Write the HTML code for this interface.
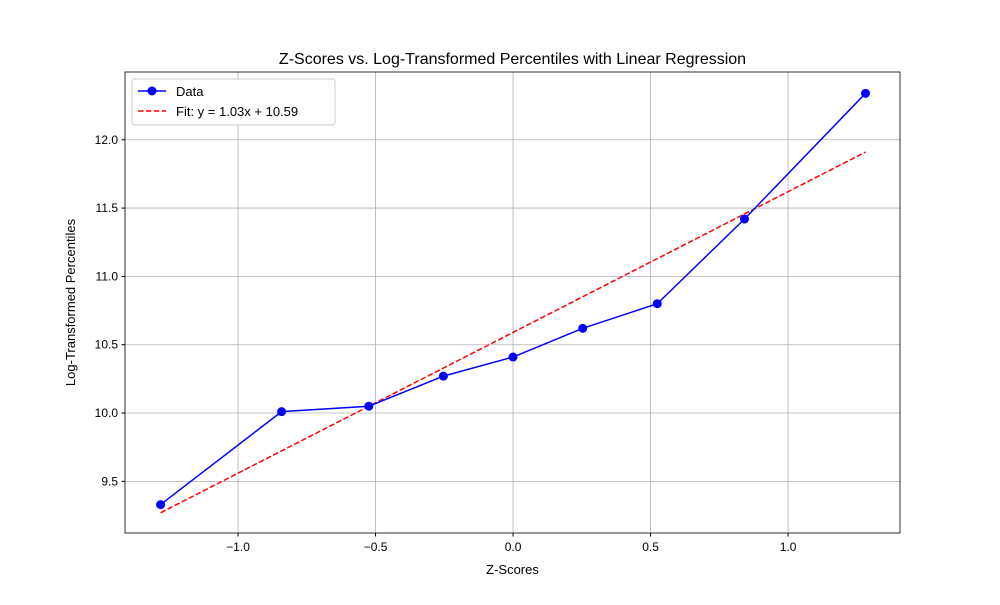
<!DOCTYPE html>
<html><head><meta charset="utf-8"><style>body{margin:0;background:#fff}svg{font-family:"Liberation Sans","DejaVu Sans",sans-serif}</style></head>
<body>
<svg id="chart" width="1000" height="600"></svg>
<script>
const zScores=[-1.2816,-0.8416,-0.5244,-0.2533,0,0.2533,0.5244,0.8416,1.2816];
const logPercentiles=[9.33,10.01,10.05,10.27,10.41,10.62,10.80,11.42,12.34];
const fitSlope=1.03, fitIntercept=10.59;
const xTicks=[-1.0,-0.5,0.0,0.5,1.0];
const yTicks=[9.5,10.0,10.5,11.0,11.5,12.0];
const L=125,R=900,T=72,B=533;
const xMin=-1.411,xMax=1.407,yMin=9.122,yMax=12.496;
const sx=v=>L+(v-xMin)/(xMax-xMin)*(R-L);
const sy=v=>B-(v-yMin)/(yMax-yMin)*(B-T);
const svg=document.getElementById('chart');
const NS='http://www.w3.org/2000/svg';
function mk(t,a,p){const e=document.createElementNS(NS,t);for(const k in a)e.setAttribute(k,a[k]);(p||svg).appendChild(e);return e;}
const fmt=v=>v.toFixed(1).replace('-','\u2212');
xTicks.forEach(v=>{const x=sx(v);
 const g=mk('line',{x1:x,x2:x,y1:T,y2:B,stroke:'#b0b0b0','stroke-width':0.8});
 
 mk('line',{x1:x,x2:x,y1:B,y2:B+3.5,stroke:'#000'});
 const t=mk('text',{x:x,y:B+18,'text-anchor':'middle','font-size':12});t.textContent=fmt(v);
 });
yTicks.forEach(v=>{const y=sy(v);
 const g=mk('line',{x1:L,x2:R,y1:y,y2:y,stroke:'#b0b0b0','stroke-width':0.8});
 
 mk('line',{x1:L-3.5,x2:L,y1:y,y2:y,stroke:'#000'});
 const t=mk('text',{x:L-7,y:y+4,'text-anchor':'end','font-size':12});t.textContent=fmt(v);
 });
// fit line
const x0=Math.min(...zScores),x1=Math.max(...zScores);
const fit=mk('line',{x1:sx(x0),y1:sy(fitSlope*x0+fitIntercept),x2:sx(x1),y2:sy(fitSlope*x1+fitIntercept),stroke:'red','stroke-width':1.5,'stroke-dasharray':'5.5,2.4'});

const pl=mk('polyline',{points:zScores.map((z,i)=>sx(z)+','+sy(logPercentiles[i])).join(' '),fill:'none',stroke:'blue','stroke-width':1.5});

zScores.forEach((z,i)=>{const c=mk('circle',{cx:sx(z),cy:sy(logPercentiles[i]),r:4.5,fill:'blue'});
 });
const fr=mk('rect',{x:L,y:T,width:R-L,height:B-T,fill:'none',stroke:'#000','stroke-width':0.8});

let t=mk('text',{x:(L+R)/2,y:64,'text-anchor':'middle','font-size':16});t.textContent='Z-Scores vs. Log-Transformed Percentiles with Linear Regression';

t=mk('text',{x:(L+R)/2,y:574,'text-anchor':'middle','font-size':13});t.textContent='Z-Scores';

t=mk('text',{x:75,y:(T+B)/2,'text-anchor':'middle','font-size':13,transform:'rotate(-90 75 '+(T+B)/2+')'});t.textContent='Log-Transformed Percentiles';

// legend
const lg=mk('g',{});
mk('rect',{x:132,y:79,width:203,height:46,rx:3,fill:'#fff',stroke:'#ccc'},lg);
mk('line',{x1:138,x2:166,y1:91,y2:91,stroke:'blue','stroke-width':1.5},lg);
mk('circle',{cx:152,cy:91,r:4.5,fill:'blue'},lg);
t=mk('text',{x:176,y:96,'font-size':13},lg);t.textContent='Data';

mk('line',{x1:138,x2:166,y1:111,y2:111,stroke:'red','stroke-width':1.5,'stroke-dasharray':'5.5,2.4'},lg);
t=mk('text',{x:176,y:116,'font-size':13},lg);t.textContent='Fit: y = 1.03x + 10.59';

</script>
</body></html>
